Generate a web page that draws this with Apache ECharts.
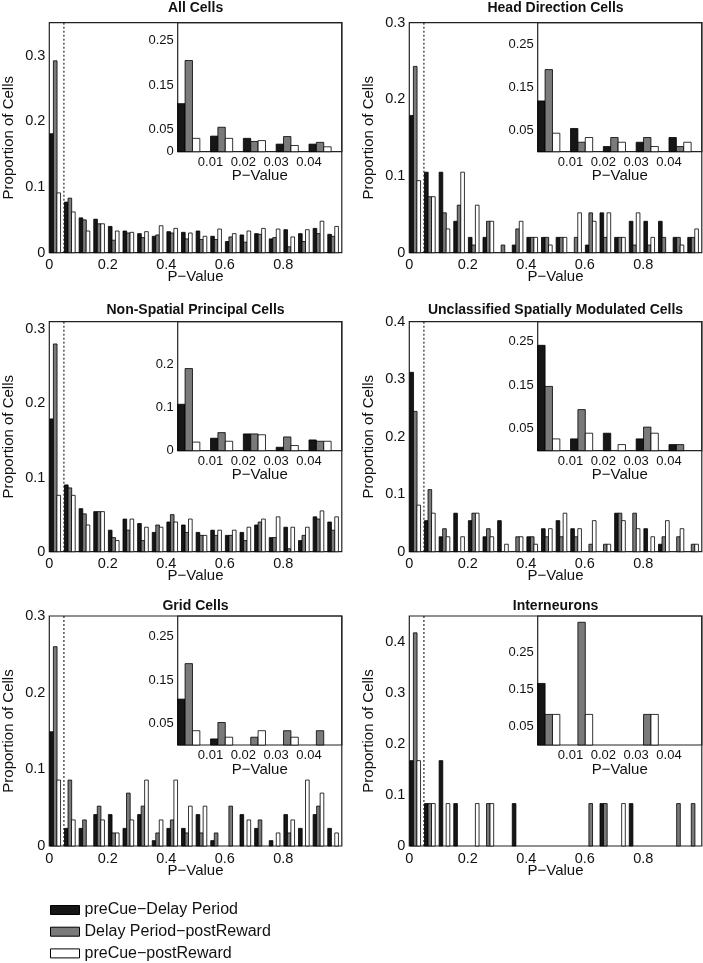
<!DOCTYPE html>
<html><head><meta charset="utf-8">
<script src="https://cdn.jsdelivr.net/npm/echarts@6/dist/echarts.min.js"></script>
<style>html,body{margin:0;padding:0;background:#fff}#c{width:703px;height:963px}</style>
</head><body><div id="c"></div><script>
// ---------- DATA ----------
const mainBins = [0,0.05,0.1,0.15,0.2,0.25,0.3,0.35,0.4,0.45,0.5,0.55,0.6,0.65,0.7,0.75,0.8,0.85,0.9,0.95];
const insetBins = [0,0.01,0.02,0.03,0.04];
const seriesNames = ['preCue\u2212Delay Period','Delay Period\u2212postReward','preCue\u2212postReward'];
const panelTitles = ['All Cells','Head Direction Cells','Non-Spatial Principal Cells','Unclassified Spatially Modulated Cells','Grid Cells','Interneurons'];
const mainXTicks = [0,0.2,0.4,0.6,0.8];
const insetXTicks = [0.01,0.02,0.03,0.04];
const mainYTicks = [[0,0.1,0.2,0.3],[0,0.1,0.2,0.3],[0,0.1,0.2,0.3],[0,0.1,0.2,0.3,0.4],[0,0.1,0.2,0.3],[0,0.1,0.2,0.3,0.4]];
const insetYTicks = [[0,0.05,0.15,0.25],[0.05,0.15,0.25],[0,0.1,0.2],[0.05,0.15,0.25],[0.05,0.15,0.25],[0.05,0.15,0.25]];
const mainYMax = [0.35,0.30,0.31,0.40,0.30,0.45];
const insetYMax = [0.29,0.30,0.30,0.295,0.298,0.35];
const cutoff = 0.05;

// All Cells
const allBlack = [0.181,0.077,0.053,0.051,0.040,0.033,0.029,0.025,0.032,0.031,0.033,0.025,0.017,0.027,0.029,0.021,0.035,0.029,0.037,0.028];
const allGray  = [0.292,0.083,0.050,0.044,0.019,0.030,0.023,0.027,0.030,0.021,0.020,0.020,0.024,0.016,0.028,0.023,0.009,0.017,0.029,0.025];
const allWhite = [0.091,0.062,0.033,0.044,0.033,0.031,0.032,0.041,0.037,0.030,0.025,0.036,0.029,0.033,0.037,0.036,0.024,0.035,0.048,0.040];
const allInBlack = [0.108,0.035,0.030,0.017,0.017];
const allInGray  = [0.205,0.055,0.023,0.034,0.021];
const allInWhite = [0.030,0.030,0.025,0.014,0.011];
// Head Direction Cells
const hdBlack = [0.179,0.105,0.105,0.041,0.020,0.020,0,0.010,0.020,0.020,0.020,0,0.010,0.052,0.020,0.041,0.041,0.041,0.020,0.020];
const hdGray  = [0.243,0.073,0.052,0.062,0.010,0.041,0.010,0.031,0.020,0.020,0.020,0.020,0.052,0.020,0.020,0.010,0.010,0.020,0.020,0.020];
const hdWhite = [0.094,0.073,0.031,0.105,0.062,0.041,0,0.041,0.020,0.010,0.020,0.052,0.041,0.052,0.020,0.052,0.020,0,0.010,0.031];
const hdInBlack = [0.118,0.054,0.012,0.022,0.033];
const hdInGray  = [0.191,0.022,0.033,0.033,0.012];
const hdInWhite = [0.043,0.033,0.022,0.012,0.022];
// Non-Spatial Principal Cells
const nsBlack = [0.179,0.090,0.058,0.054,0.029,0.044,0.038,0.026,0.040,0.036,0.026,0.029,0.022,0.026,0.036,0.019,0.033,0.015,0.047,0.040];
const nsGray  = [0.280,0.086,0.051,0.054,0.019,0.029,0.015,0.036,0.050,0.026,0.022,0.022,0.022,0.015,0.040,0.019,0.004,0.022,0.044,0.029];
const nsWhite = [0.076,0.076,0.036,0.054,0.015,0.044,0.033,0.033,0.040,0.044,0.022,0.029,0.029,0.033,0.044,0.047,0.033,0.033,0.055,0.047];
const nsInBlack = [0.108,0.029,0.039,0.008,0.025];
const nsInGray  = [0.191,0.042,0.039,0.032,0.022];
const nsInWhite = [0.020,0.022,0.037,0.012,0.022];
// Unclassified Spatially Modulated Cells
const unBlack = [0.312,0.054,0.026,0.067,0.054,0.026,0.054,0,0.026,0.040,0.054,0.040,0,0,0.067,0,0.040,0.013,0,0];
const unGray  = [0.244,0.108,0.040,0,0.067,0.040,0,0.026,0.026,0.026,0.026,0.026,0.013,0.013,0.067,0.067,0,0.026,0.026,0.013];
const unWhite = [0.081,0.067,0.026,0.026,0.067,0.026,0.013,0.026,0.013,0.040,0.067,0.040,0.054,0.013,0.054,0.040,0.026,0.054,0.040,0.013];
const unInBlack = [0.241,0.027,0.040,0.027,0.014];
const unInGray  = [0.147,0.094,0,0.054,0.014];
const unInWhite = [0.027,0.040,0.014,0.040,0];
// Grid Cells
const gcBlack = [0.149,0.023,0.023,0.041,0.041,0.023,0.041,0.007,0.023,0.023,0.041,0.007,0,0.041,0.023,0.007,0.041,0.023,0.041,0.023];
const gcGray  = [0.260,0.086,0.034,0.052,0.017,0.069,0.052,0.017,0.034,0.017,0.017,0.017,0.052,0,0.034,0,0.017,0,0.052,0];
const gcWhite = [0.086,0.034,0,0.034,0.017,0.034,0.086,0.034,0.086,0.052,0.052,0,0,0.034,0,0.017,0.034,0.086,0.069,0.017];
const gcInBlack = [0.106,0.014,0,0,0];
const gcInGray  = [0.188,0.052,0.018,0.033,0.033];
const gcInWhite = [0.033,0.018,0.033,0.018,0];
// Interneurons
const inBlack = [0.167,0.083,0.167,0.083,0,0,0,0.083,0,0,0,0,0,0.083,0,0.083,0,0,0,0];
const inGray  = [0.417,0.083,0,0,0,0.083,0,0,0,0,0,0,0.083,0.083,0,0,0,0,0.083,0.083];
const inWhite = [0.167,0.083,0.083,0,0.083,0.083,0,0,0,0,0,0,0,0,0.083,0,0,0,0,0];
const inInBlack = [0.167,0,0,0,0];
const inInGray  = [0.083,0.333,0,0.083,0];
const inInWhite = [0.083,0.083,0,0.083,0];

const mainData = [[allBlack,allGray,allWhite],[hdBlack,hdGray,hdWhite],[nsBlack,nsGray,nsWhite],[unBlack,unGray,unWhite],[gcBlack,gcGray,gcWhite],[inBlack,inGray,inWhite]];
const insetData = [[allInBlack,allInGray,allInWhite],[hdInBlack,hdInGray,hdInWhite],[nsInBlack,nsInGray,nsInWhite],[unInBlack,unInGray,unInWhite],[gcInBlack,gcInGray,gcInWhite],[inInBlack,inInGray,inInWhite]];

// ---------- LAYOUT / STYLE ----------
const FONT = 'Liberation Sans, Arial, sans-serif';
const TXT = '#111';
const colors = ['#161616','#7a7a7a','#ffffff'];
const panelPos = [[49.3,22.7],[409.3,22.7],[49.3,321.7],[409.3,321.7],[49.3,616],[409.3,616]];
const titleY = [1.5,303,599.5];
const PW = 292.5, PH = 230, IDX = 128.4, IW = 164.1, IH = 129;

function fmt(v){ return v === 0 ? '0' : String(Math.round(v*1000)/1000); }
function tickFormatter(list){ return v => list.some(t => Math.abs(t - v) < 1e-6) ? fmt(v) : ''; }

const grids = [], xAxes = [], yAxes = [], series = [], titles = [];
panelPos.forEach((p, i) => {
  const gi = grids.length;
  grids.push({left:p[0], top:p[1], width:PW, height:PH, show:true, borderColor:'#222', borderWidth:1.2, backgroundColor:'transparent', containLabel:false, outerBoundsMode:'none'});
  xAxes.push({gridIndex:gi, type:'value', min:0, max:1, interval:0.2,
    axisLine:{show:false}, axisTick:{show:false}, splitLine:{show:false},
    axisLabel:{formatter:tickFormatter(mainXTicks), margin:5, fontSize:14.5, color:TXT, fontFamily:FONT},
    name:'P\u2212Value', nameLocation:'middle', nameGap:17, nameMoveOverlap:false,
    nameTextStyle:{fontSize:15, color:TXT, fontFamily:FONT}});
  yAxes.push({gridIndex:gi, type:'value', min:0, max:mainYMax[i], interval:0.1,
    axisLine:{show:false}, axisTick:{show:false}, splitLine:{show:false},
    axisLabel:{formatter:tickFormatter(mainYTicks[i]), margin:4, fontSize:14.5, color:TXT, fontFamily:FONT},
    name:'Proportion of Cells', nameLocation:'middle', nameGap:33, nameMoveOverlap:false,
    nameTextStyle:{fontSize:15, color:TXT, fontFamily:FONT}});
  titles.push({text:panelTitles[i], left:p[0]+PW/2, top:titleY[Math.floor(i/2)], textAlign:'center', padding:0,
    textStyle:{fontSize:14, fontWeight:'bold', color:TXT, fontFamily:FONT}});
  // dashed significance line
  series.push({type:'line', xAxisIndex:gi, yAxisIndex:gi, data:[[cutoff,0],[cutoff,mainYMax[i]]],
    symbol:'none', silent:true, z:1, animation:false,
    lineStyle:{color:'#000', width:1, type:[2,2]}});
  mainData[i].forEach((vals, k) => series.push(barSeries(seriesNames[k], colors[k], vals, mainBins, gi, k, 0.002, 0.012, 0.0125)));

  const ii = grids.length;
  grids.push({left:p[0]+IDX, top:p[1], width:IW, height:IH, show:true, borderColor:'#222', borderWidth:1.2, backgroundColor:'transparent', containLabel:false, outerBoundsMode:'none'});
  xAxes.push({gridIndex:ii, type:'value', min:0, max:0.05, interval:0.01,
    axisLine:{show:false}, axisTick:{show:false}, splitLine:{show:false},
    axisLabel:{formatter:tickFormatter(insetXTicks), margin:4, fontSize:13, color:TXT, fontFamily:FONT},
    name:'P\u2212Value', nameLocation:'middle', nameGap:17, nameMoveOverlap:false,
    nameTextStyle:{fontSize:15, color:TXT, fontFamily:FONT}});
  yAxes.push({gridIndex:ii, type:'value', min:0, max:insetYMax[i], interval:0.05,
    axisLine:{show:false}, axisTick:{show:false}, splitLine:{show:false},
    axisLabel:{formatter:tickFormatter(insetYTicks[i]), margin:4, fontSize:13, color:TXT, fontFamily:FONT}});
  insetData[i].forEach((vals, k) => series.push(barSeries(seriesNames[k], colors[k], vals, insetBins, ii, k, 0, 0.00225, 0.00225)));
});

function barSeries(name, color, values, bins, gi, k, offset, step, width){
  return {
    type:'custom', name, xAxisIndex:gi, yAxisIndex:gi, z:3, silent:true, animation:false,
    data: bins.map((b, j) => [b, values[j]]),
    encode:{x:0, y:1},
    itemStyle:{color},
    renderItem(params, api){
      const v = api.value(1);
      if (!(v > 0)) return null;
      const x0 = api.value(0) + offset + k*step;
      const a = api.coord([x0, v]);
      const b = api.coord([x0 + width, 0]);
      return {type:'rect', shape:{x:a[0], y:a[1], width:b[0]-a[0], height:b[1]-a[1]},
        style:{fill:color, stroke:'#000', lineWidth:0.8}};
    }
  };
}

const chart = echarts.init(document.getElementById('c'), null, {renderer:'canvas'});
chart.setOption({
  backgroundColor:'#fff',
  animation:false,
  textStyle:{fontFamily:FONT},
  title:titles,
  grid:grids, xAxis:xAxes, yAxis:yAxes,
  legend:{data:seriesNames, orient:'vertical', left:50, top:902, padding:0,
    itemWidth:29, itemHeight:9, itemGap:5.7, icon:'rect', selectedMode:false,
    itemStyle:{borderColor:'#000', borderWidth:1},
    textStyle:{fontSize:16, color:TXT, fontFamily:FONT}},
  series
});
</script></body></html>
